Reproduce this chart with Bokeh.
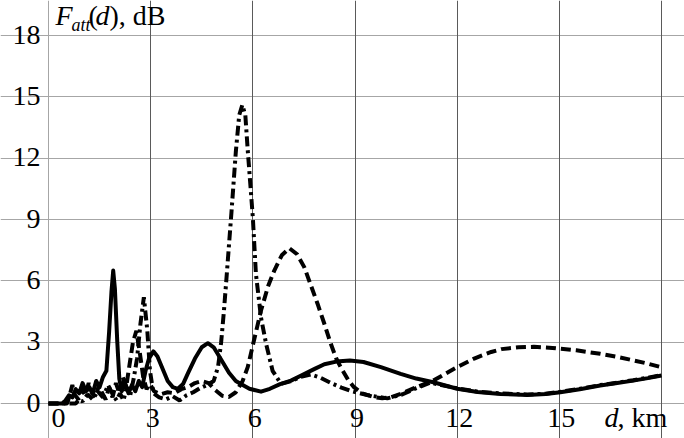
from bokeh.plotting import figure
from bokeh.models import Range1d, FixedTicker, Label, Grid
from bokeh.embed import file_html
from bokeh.resources import INLINE

# ---------------- data ----------------
x_grid_ticks = [3, 6, 9, 12, 15, 18]
x_ticks = [0, 3, 6, 9, 12, 15]
x_tick_labels = ["0", "3", "6", "9", "12", "15"]
y_ticks = [0, 3, 6, 9, 12, 15, 18]
y_tick_labels = ["0", "3", "6", "9", "12", "15", "18"]
x_min, x_max = 0, 18
y_min, y_max = 0, 18

solid_d = [0, 0.4, 0.5, 0.6, 0.7, 0.8, 0.9, 1.0, 1.1, 1.2, 1.3, 1.4, 1.5, 1.6, 1.7, 1.78, 1.85, 1.9,
           1.95, 2.02, 2.08, 2.15, 2.25, 2.35, 2.45, 2.55, 2.65, 2.75, 2.85, 2.95, 3.08, 3.2, 3.35,
           3.5, 3.65, 3.8, 3.95, 4.1, 4.3, 4.5, 4.68, 4.85, 5.05, 5.3, 5.5, 5.65, 5.9, 6.24, 6.5,
           6.8, 7.12, 7.42, 7.8, 8.1, 8.45, 8.85, 9.25, 9.76, 10.34, 10.8, 11.3, 12.0, 12.6, 13.27,
           14.06, 14.6, 15.03, 15.6, 16.2, 16.7, 17.17, 17.6, 18.0]
solid_v = [0, 0, 0.15, 0.4, 0.3, 0.7, 0.5, 1.0, 0.6, 0.8, 0.5, 1.1, 0.8, 1.3, 1.6, 3.5, 5.5, 6.5,
           5.6, 3.0, 1.2, 0.6, 1.0, 0.5, 0.9, 0.6, 1.1, 0.8, 1.6, 2.2, 2.55, 2.3, 1.7,
           1.1, 0.8, 0.72, 0.95, 1.5, 2.2, 2.75, 2.95, 2.75, 2.2, 1.5, 1.1, 0.95, 0.72, 0.58, 0.72,
           0.95, 1.12, 1.37, 1.68, 1.92, 2.05, 2.1, 2.03, 1.78, 1.45, 1.22, 1.04, 0.72, 0.56, 0.47,
           0.42, 0.46, 0.55, 0.7, 0.88, 1.0, 1.12, 1.24, 1.37]

dashed_d = [0, 0.55, 0.62, 0.7, 0.78, 0.88, 0.98, 1.08, 1.18, 1.28, 1.38, 1.48, 1.58, 1.68, 1.78,
            1.88, 1.98, 2.08, 2.18, 2.28, 2.38, 2.48, 2.58, 2.68, 2.78, 2.88, 2.98, 3.1, 3.3, 3.5,
            3.7, 3.9, 4.1, 4.3, 4.5, 4.7, 4.9, 5.1, 5.3, 5.5, 5.7, 5.85, 6.05, 6.24, 6.45, 6.63,
            6.85, 7.07, 7.3, 7.51, 7.7, 7.9, 8.1, 8.29, 8.45, 8.58, 8.8, 8.97, 9.2, 9.56, 9.8,
            10.05, 10.34, 10.8, 11.3, 12.0, 12.5, 13.0, 13.3, 13.8, 14.25, 14.8, 15.5, 16.2, 16.7,
            17.2, 17.6, 18.0]
dashed_v = [0, 0, 0.4, 0.9, 0.4, 0.2, 0.7, 0.4, 1.0, 0.5, 0.3, 0.9, 0.5, 0.2, 0.8,
            0.3, 1.0, 0.5, 1.3, 0.8, 1.9, 3.0, 3.55, 2.5, 1.3, 0.7, 0.95, 0.6, 0.45, 0.55,
            0.5, 0.7, 0.8, 1.0, 1.1, 1.0, 0.65, 0.38, 0.32, 0.55, 1.1, 1.78, 3.2, 4.55, 5.75, 6.5,
            7.25, 7.6, 7.3, 6.67, 5.8, 4.88, 3.9, 2.92, 2.2, 1.78, 1.15, 0.8, 0.5, 0.31, 0.26,
            0.3, 0.47, 0.8, 1.12, 1.78, 2.2, 2.52, 2.66, 2.75, 2.77, 2.72, 2.6, 2.43, 2.28,
            2.1, 1.95, 1.77]

dashdot_d = [0, 0.8, 0.9, 1.0, 1.15, 1.3, 1.45, 1.6, 1.75, 1.9, 2.0, 2.1, 2.2, 2.3, 2.4, 2.5, 2.6,
             2.7, 2.8, 2.9, 2.98, 3.08, 3.25, 3.45, 3.65, 3.85, 4.05, 4.25, 4.45, 4.65, 4.85, 4.98,
             5.07, 5.15, 5.22, 5.37, 5.5, 5.6, 5.69, 5.78, 5.85, 6.0, 6.09, 6.24, 6.39, 6.58, 6.83,
             7.1, 7.4, 7.7, 8.0, 8.3, 8.6, 8.9, 9.4, 9.95, 10.4, 10.8, 11.2, 11.6, 12.0, 12.6,
             13.27, 14.06, 14.6, 15.03, 15.6, 16.2, 16.7, 17.17, 17.6, 18.0]
dashdot_v = [0, 0, 0.2, 0.1, 0.45, 0.2, 0.6, 0.3, 0.9, 0.4, 0.15, 0.5, 0.15, 0.8, 0.4, 1.2, 2.2,
             3.9, 5.2, 3.6, 1.6, 0.5, 0.3, 0.2, 0.35, 0.15, 0.4, 0.55, 0.75, 0.9, 1.1, 1.8,
             3.0, 4.5, 6.0, 9.3, 12.3, 14.1, 14.6, 14.1, 12.4, 9.1, 6.35, 4.2, 2.92, 1.6, 0.96,
             1.08, 1.3, 1.42, 1.25, 1.0, 0.78, 0.6, 0.4, 0.25, 0.45, 0.75, 1.02, 0.88, 0.74, 0.58,
             0.49, 0.44, 0.48, 0.57, 0.72, 0.9, 1.02, 1.14, 1.26, 1.39]

# ---------------- layout (pixels) ----------------
W, H = 684, 438
FL, FR, FT, FB = 48, 661, 35, 403      # plot area edges on the canvas
sx = (FR - FL) / (x_max - x_min)
sy = (FB - FT) / (y_max - y_min)

FONT = "Liberation Serif"
FS = "28px"

p = figure(width=W, height=H, output_backend="svg", toolbar_location=None,
           x_axis_location=None, y_axis_location=None,
           x_range=Range1d(x_min - FL / sx, x_max + (W - FR) / sx),
           y_range=Range1d(y_min - (H - FB) / sy, y_max + FT / sy),
           min_border=0, min_border_left=0, min_border_right=0,
           min_border_top=0, min_border_bottom=0)
p.outline_line_color = None
p.background_fill_color = "white"
p.border_fill_color = "white"
p.center = []

# grid: horizontal light grey, vertical dark grey, left/bottom edges light grey
p.add_layout(Grid(dimension=1, ticker=FixedTicker(ticks=y_ticks), bounds=(x_min, x_max),
                  grid_line_color="#a6a6a6", grid_line_width=1), "center")
p.add_layout(Grid(dimension=0, ticker=FixedTicker(ticks=x_grid_ticks), bounds=(y_min, y_max),
                  grid_line_color="#5a5a5a", grid_line_width=1), "center")
p.add_layout(Grid(dimension=0, ticker=FixedTicker(ticks=[x_min]), bounds=(y_min, y_max),
                  grid_line_color="#a6a6a6", grid_line_width=1), "center")

LW = 4
p.line(solid_d, solid_v, line_color="black", line_width=LW, line_join="round")
p.line(dashed_d, dashed_v, line_color="black", line_width=LW, line_dash="10 5")
p.line(dashdot_d, dashdot_v, line_color="black", line_width=LW, line_dash="10 4 3 4")


def lab(x, y, text, xo, yo, align="left", style="normal", size=FS):
    p.add_layout(Label(x=x, y=y, text=text, x_offset=xo, y_offset=yo, text_align=align,
                       text_baseline="middle", text_font=FONT, text_font_size=size,
                       text_font_style=style, text_color="black"))


# y tick labels
for yv, t in zip(y_ticks, y_tick_labels):
    lab(x_min, yv, t, -8, 1, align="right")

# x tick labels
for xv, t in zip(x_ticks, x_tick_labels):
    lab(xv, y_min, t, 10 if t == "0" else 2, -14, align="center")

# x-axis title "d, km"
lab(x_max, y_min, "d", -57, -14, style="italic")
lab(x_max, y_min, ", km", -44, -14)

# y-axis title "F_att(d), dB"
lab(x_min, y_max, "F", 7, 20, style="italic")
lab(x_min, y_max, "att", 23, 11, style="italic", size="18px")
lab(x_min, y_max, "(", 40, 20)
lab(x_min, y_max, "d", 47, 20, style="italic")
lab(x_min, y_max, "), dB", 61, 20)

open("out.html", "w").write(file_html(p, INLINE))
